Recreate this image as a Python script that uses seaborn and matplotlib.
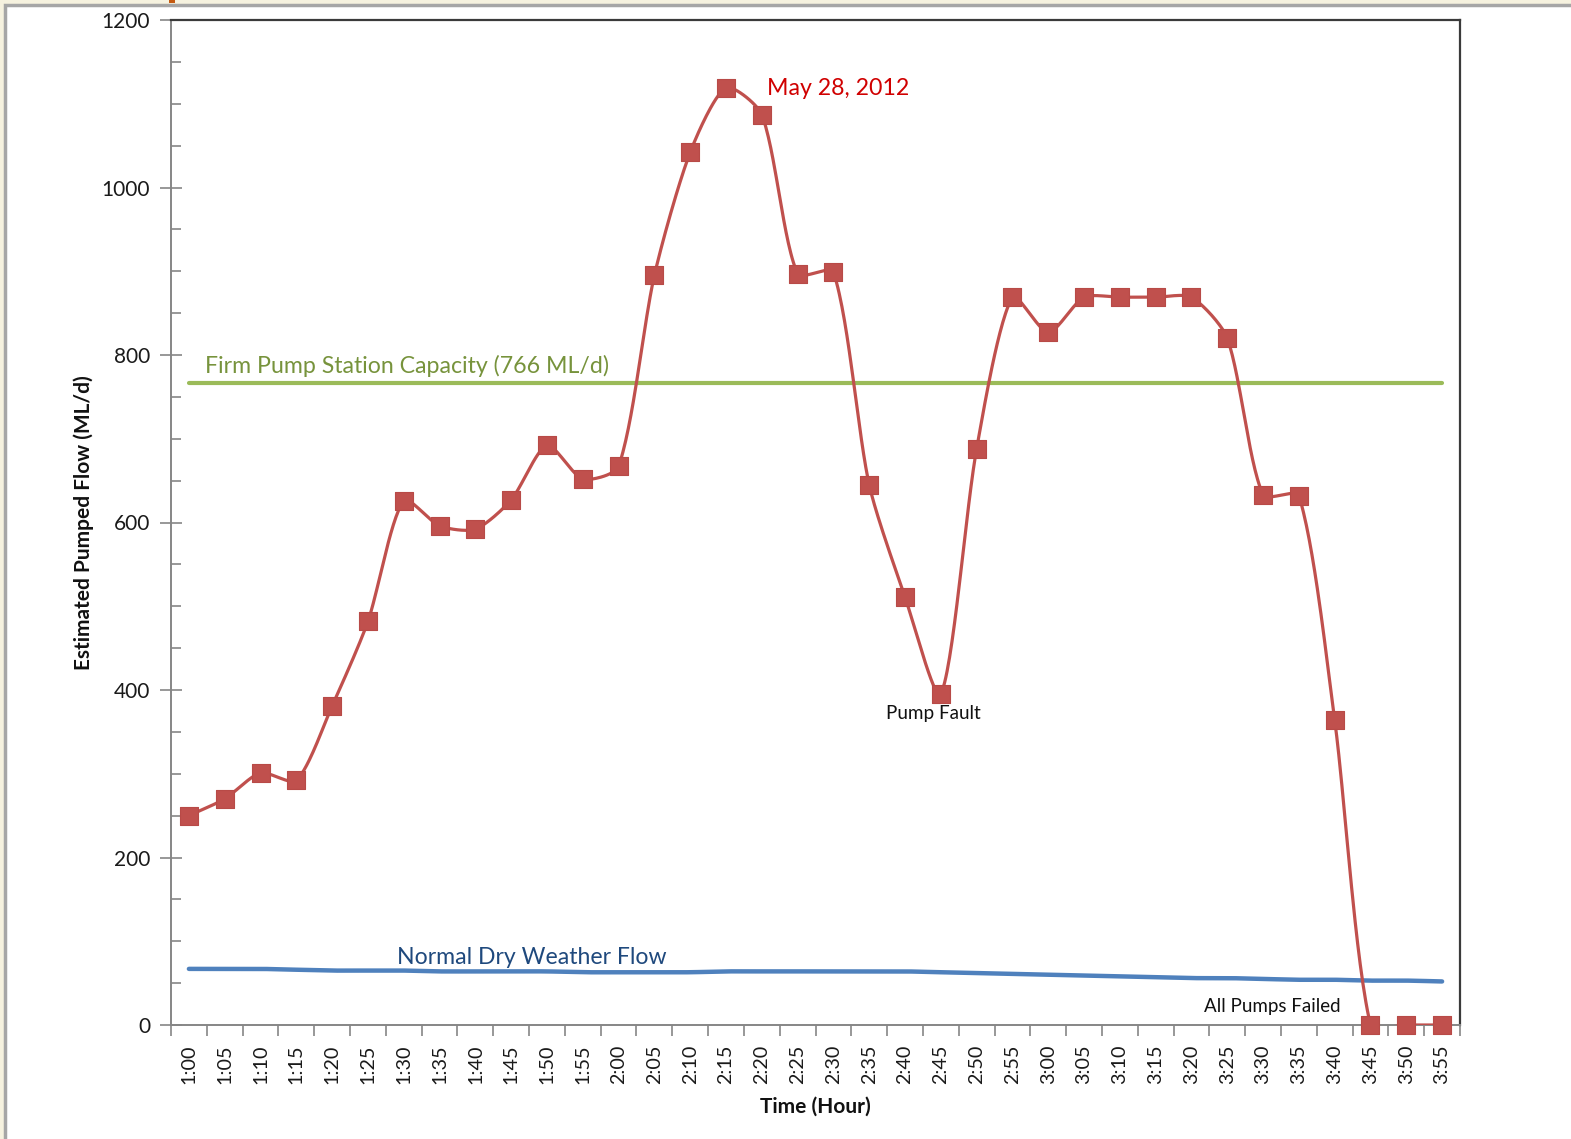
import numpy as np
import pandas as pd
import matplotlib
matplotlib.use("Agg")
import matplotlib.pyplot as plt
from matplotlib.ticker import MultipleLocator, FixedLocator, NullFormatter
from matplotlib.patches import Rectangle
import seaborn as sns

# ---------------- data ----------------
times = ["1:00", "1:05", "1:10", "1:15", "1:20", "1:25", "1:30", "1:35", "1:40", "1:45",
         "1:50", "1:55", "2:00", "2:05", "2:10", "2:15", "2:20", "2:25", "2:30", "2:35",
         "2:40", "2:45", "2:50", "2:55", "3:00", "3:05", "3:10", "3:15", "3:20", "3:25",
         "3:30", "3:35", "3:40", "3:45", "3:50", "3:55"]
pumped_flow = [250, 270, 301, 292, 381, 482, 626, 596, 592, 627,
               692, 652, 667, 895, 1042, 1119, 1087, 897, 899, 645,
               511, 395, 688, 869, 827, 869, 869, 869, 869, 820,
               633, 632, 364, 0, 0, 0]
dry_weather_flow = [67, 67, 67, 66, 65, 65, 65, 64, 64, 64,
                    64, 63, 63, 63, 63, 64, 64, 64, 64, 64,
                    64, 63, 62, 61, 60, 59, 58, 57, 56, 56,
                    55, 54, 54, 53, 53, 52]
firm_capacity = 766

# ---------------- style ----------------
sns.set_theme(style="white")
plt.rcParams['font.family'] = ['Lato', 'DejaVu Sans']

RED = "#C0504D"
GREEN = "#9BBB59"
BLUE = "#4F81BD"

fig = plt.figure(figsize=(15.71, 11.39), dpi=100)
fig.patch.set_facecolor("#F6F2DF")
fig.patches.append(Rectangle((5 / 1571, -0.05), 1.1, 1.05 - 5 / 1139, transform=fig.transFigure,
                             facecolor="white", edgecolor="#A6A6A6", linewidth=2.5, zorder=-5))
fig.patches.append(Rectangle((169 / 1571, 1 - 3 / 1139), 6 / 1571, 3 / 1139, transform=fig.transFigure,
                             facecolor="#C55A11", edgecolor="none", zorder=-4))
ax = fig.add_axes([171 / 1571, 1 - 1025 / 1139, (1460 - 171) / 1571, (1025 - 20) / 1139])
ax.set_zorder(2)
ax.set_facecolor("white")

x = np.arange(len(times))
df = pd.DataFrame({"idx": x, "flow": pumped_flow, "dry": dry_weather_flow})

# smoothed line drawing: Bezier segments with tangents limited by segment length
def smooth(xv, yv, sx=35.8, sy=0.8375, n=30, k=0.75):
    P = np.column_stack([np.asarray(xv, float) * sx, np.asarray(yv, float) * sy])
    m = len(P)
    d = np.linalg.norm(np.diff(P, axis=0), axis=1)
    T = np.zeros_like(P)
    for i in range(m):
        if i == 0:
            T[i] = (P[1] - P[0]) / max(d[0], 1e-9)
        elif i == m - 1:
            T[i] = (P[-1] - P[-2]) / max(d[-1], 1e-9)
        else:
            T[i] = (P[i + 1] - P[i - 1]) / max(d[i - 1] + d[i], 1e-9)
    t = np.linspace(0, 1, n, endpoint=False)[:, None]
    out = []
    for i in range(m - 1):
        p1, p2 = P[i], P[i + 1]
        c1 = p1 + T[i] * d[i] / 3 * k
        c2 = p2 - T[i + 1] * d[i] / 3 * k
        pts = ((1 - t) ** 3) * p1 + 3 * ((1 - t) ** 2) * t * c1 + 3 * (1 - t) * t ** 2 * c2 + t ** 3 * p2
        out.append(pts)
    out.append(P[-1][None, :])
    out = np.vstack(out)
    return out[:, 0] / sx, out[:, 1] / sy

sx_f, sy_f = smooth(x, pumped_flow)
sx_d, sy_d = smooth(x, dry_weather_flow)

# firm capacity line
ax.plot([x[0], x[-1]], [firm_capacity, firm_capacity], color=GREEN, lw=3.0,
        solid_capstyle="round", zorder=2)
# dry weather flow
ax.plot(sx_d, sy_d, color=BLUE, lw=3.2, solid_capstyle="round", zorder=2)
# pumped flow
ax.plot(sx_f, sy_f, color=RED, lw=2.3, zorder=3)
sns.scatterplot(data=df, x="idx", y="flow", marker="s", s=180, color=RED,
                edgecolor="#B84A47", linewidth=0.8, ax=ax, zorder=4, clip_on=False)

# ---------------- axes ----------------
ax.set_xlim(-0.5, len(times) - 0.5)
ax.set_ylim(0, 1200)

ax.yaxis.set_major_locator(MultipleLocator(200))
ax.yaxis.set_minor_locator(MultipleLocator(50))
ax.tick_params(axis="y", which="major", direction="inout", length=16, width=1.2,
               color="#868686", labelsize=15, pad=7, labelcolor="#1a1a1a", left=True)
ax.tick_params(axis="y", which="minor", direction="in", length=7, width=1.2,
               color="#868686", left=True)

ax.xaxis.set_major_locator(FixedLocator(np.arange(-0.5, len(times), 1.0)))
ax.xaxis.set_major_formatter(NullFormatter())
ax.set_xticks(x, minor=True)
ax.set_xticklabels(times, minor=True, rotation=90)
ax.tick_params(axis="x", which="major", direction="out", length=8, width=1.2,
               color="#868686", bottom=True)
ax.tick_params(axis="x", which="minor", length=0, labelsize=14.2, pad=14,
               labelcolor="#1a1a1a", bottom=True)

for s in ["left", "bottom"]:
    ax.spines[s].set_color("#868686")
    ax.spines[s].set_linewidth(1.4)
for s in ["top", "right"]:
    ax.spines[s].set_color("#3a3a3a")
    ax.spines[s].set_linewidth(1.6)

ax.set_xlabel("Time (Hour)", fontsize=15, fontweight="bold", color="#111111")
ax.set_ylabel("Estimated Pumped Flow (ML/d)", fontsize=15, fontweight="bold", color="#111111")
ax.yaxis.set_label_coords(-77 / 1289, 0.5)
ax.xaxis.set_label_coords(0.5, -(1097 - 1025) / 1005)

# ---------------- annotations ----------------
ax.text(0.45, 787, "Firm Pump Station Capacity (766 ML/d)", fontsize=16.7, color="#77933C",
        ha="left", va="center")
ax.text(5.8, 80, "Normal Dry Weather Flow", fontsize=16.6, color="#1F497D",
        ha="left", va="center")
ax.text(16.15, 1118, "May 28, 2012", fontsize=16.7, color="#D00000", ha="left", va="center")
ax.text(19.46, 372, "Pump Fault", fontsize=13.6, color="#111111", ha="left", va="center")
ax.text(28.35, 22, "All Pumps Failed", fontsize=13.5, color="#111111", ha="left", va="center")

fig.savefig("out.png", dpi=100, facecolor=fig.get_facecolor())
